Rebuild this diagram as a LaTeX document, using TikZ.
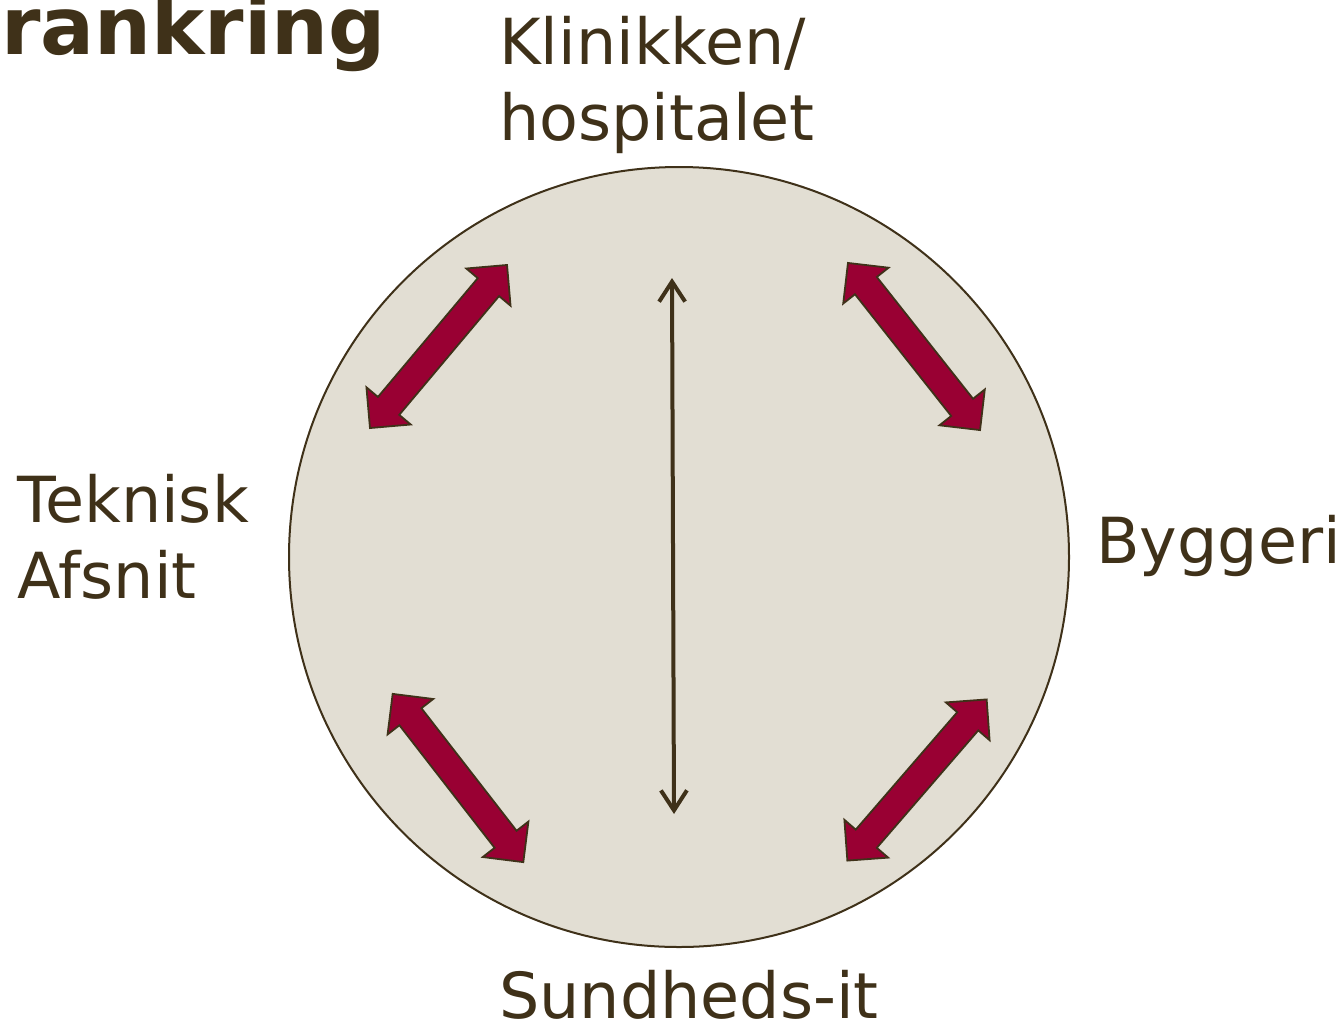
\documentclass[tikz,border=0pt]{standalone}
\usepackage{fontspec}
\setmainfont{DejaVu Sans}
\usepackage{xcolor}
\usetikzlibrary{shapes.arrows}
\usetikzlibrary{arrows.meta}
\definecolor{ink}{HTML}{3F3119}
\definecolor{disc}{HTML}{E2DED3}
\definecolor{wine}{HTML}{990033}

\begin{document}
\begin{tikzpicture}[x=1pt,y=-1pt,
  lbl/.style={anchor=base west,inner sep=0pt,text=ink,align=left,
    font=\fontsize{63.5}{76}\selectfont},
  fat/.style={double arrow,draw=ink,line width=1.8pt,fill=wine,
    inner xsep=0pt,inner ysep=13pt,
    minimum height=213pt,minimum width=56pt,double arrow head extend=15pt,
    double arrow tip angle=90,sloped}]
  \useasboundingbox (0,0) rectangle (1343,1026);

  \node (ttl) [anchor=base west,inner sep=0pt,text=ink,
    font=\fontsize{80}{90}\selectfont\bfseries] at (1,54) {rankring};

  \node (ring) [circle,draw=ink,fill=disc,line width=2pt,
    minimum size=780pt,inner sep=0pt] at (679,557) {};

  % multi-line labels sit on the baseline of their last line
  \node (kh) [lbl] at (499,140) {Klinikken/\\hospitalet};
  \node (ta) [lbl] at (17,598) {Teknisk\\Afsnit};
  \node (by) [lbl] at (1096,563) {Byggeri};
  \node (si) [lbl] at (499,1018) {Sundheds-it};

  % fat arrows between the four corners
  \coordinate (a1) at (507,265);
  \coordinate (b1) at (370,428);
  \coordinate (a2) at (848,263);
  \coordinate (b2) at (980,430);
  \coordinate (a3) at (392,693);
  \coordinate (b3) at (524,863);
  \coordinate (a4) at (987,699);
  \coordinate (b4) at (847,861);
  \path (a1) -- node (fa1) [fat] {} (b1);
  \path (a2) -- node (fa2) [fat] {} (b2);
  \path (a3) -- node (fa3) [fat] {} (b3);
  \path (a4) -- node (fa4) [fat] {} (b4);

  \coordinate (top) at (672,278);
  \coordinate (bot) at (674,814);
  \draw[ink,line width=4pt,
    {Straight Barb[length=20pt,width=26pt]}-{Straight Barb[length=20pt,width=26pt]}]
    (top) -- (bot);
\end{tikzpicture}
\end{document}
